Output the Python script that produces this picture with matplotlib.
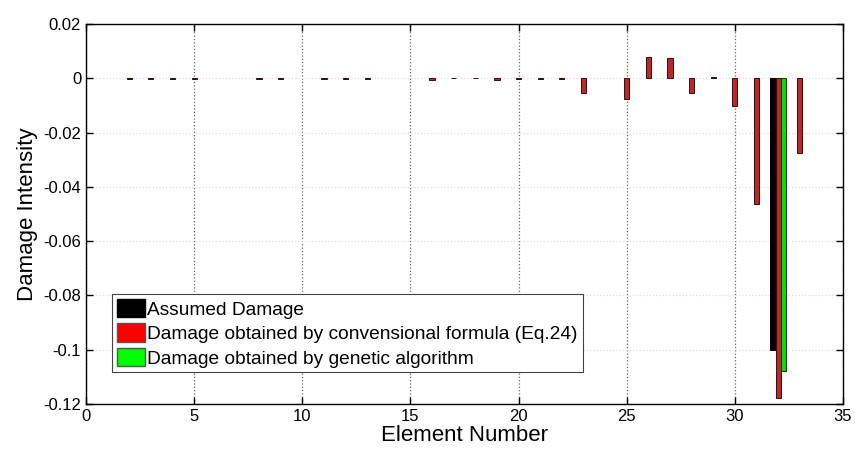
import matplotlib
matplotlib.use('Agg')
import matplotlib.pyplot as plt
import numpy as np
from matplotlib.patches import Patch
from matplotlib.ticker import FormatStrFormatter

elements = list(range(1, 34))

assumed = [0.0] * 33
assumed[31] = -0.1

# conventional formula (Eq.24)
conventional = [
    0.0, -0.0003, -0.0002, -0.0002, -0.0003, 0.0, 0.0, -0.0002, -0.0002, 0.0,
    -0.0002, -0.0002, -0.0002, 0.0, 0.0, -0.0008, 0.0002, 0.0002, -0.0006, -0.0003,
    -0.0002, -0.0002, -0.0055, 0.0, -0.0077, 0.0079, 0.0073, -0.0055, 0.0003, -0.0103,
    -0.0463, -0.1178, -0.0274,
]

genetic = [0.0] * 33
genetic[31] = -0.108

legend_labels = [
    'Assumed Damage',
    'Damage obtained by convensional formula (Eq.24)',
    'Damage obtained by genetic algorithm',
]

plt.rcParams['font.family'] = ['Liberation Sans', 'DejaVu Sans']
plt.rcParams['axes.unicode_minus'] = False

fig = plt.figure(figsize=(8.55, 4.5), dpi=100)
ax = fig.add_axes([0.1006, 0.1022, 0.8854, 0.8445])

x = np.array(elements, dtype=float)
w = 0.24

# zero-height bars are skipped so they don't leave edge marks
def draw(vals, offset, face, edge):
    vals = np.array(vals)
    mask = vals != 0
    ax.bar(x[mask] + offset, vals[mask], width=w, color=face, edgecolor=edge,
           linewidth=0.7, zorder=3)

draw(assumed, -w, 'black', 'black')
draw(conventional, 0.0, '#b82a2a', '#3a0a0a')
draw(genetic, w, '#00e000', '#103010')

ax.set_xlim(0, 35)
ax.set_ylim(-0.12, 0.02)
ax.set_xticks(np.arange(0, 36, 5))
ax.set_yticks(np.arange(-0.12, 0.021, 0.02))
ax.yaxis.set_major_formatter(FormatStrFormatter('%g'))
ax.set_yticklabels(['-0.12', '-0.1', '-0.08', '-0.06', '-0.04', '-0.02', '0', '0.02'])

ax.tick_params(direction='in', top=True, right=True, labelsize=12, length=5, width=1)
ax.xaxis.grid(True, linestyle=':', color='#666666', linewidth=0.9, zorder=0)
ax.yaxis.grid(True, linestyle=':', color='#dddddd', linewidth=0.9, zorder=0)
ax.set_axisbelow(True)
for s in ax.spines.values():
    s.set_linewidth(1.0)
    s.set_color('black')

ax.set_xlabel('Element Number', fontsize=16, labelpad=1)
ax.set_ylabel('Damage Intensity', fontsize=16, labelpad=4)

handles = [Patch(facecolor='black', edgecolor='black'),
           Patch(facecolor='#ff0000', edgecolor='#555555'),
           Patch(facecolor='#00ff00', edgecolor='#555555')]
leg = ax.legend(handles, legend_labels, loc='upper left', bbox_to_anchor=(0.034, 0.289),
                borderaxespad=0, fontsize=13.8, fancybox=False, framealpha=1,
                edgecolor='#444444', handlelength=1.5, handleheight=1.1,
                handletextpad=0.1, labelspacing=0.25, borderpad=0.25)
leg.get_frame().set_linewidth(0.8)

fig.savefig('out.png', dpi=100)
